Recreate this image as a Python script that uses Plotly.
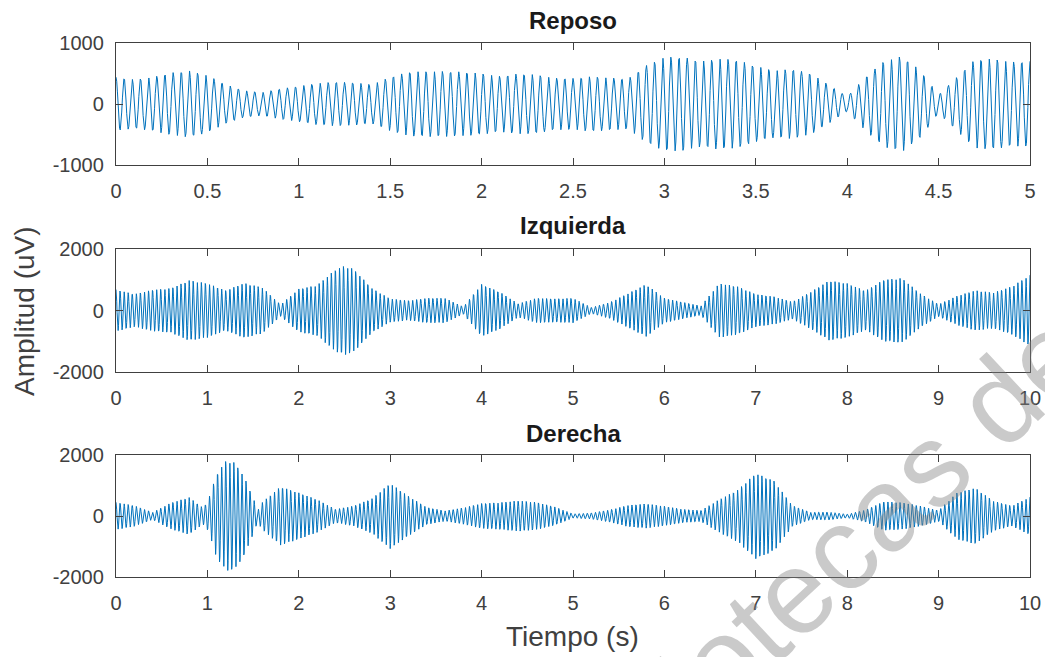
import numpy as np
import plotly.graph_objects as go

# ---------------- data ----------------
FS = 256  # samples per second

reposo_freq = 22.4
reposo_env_t = [0.0, 0.1, 0.2, 0.3, 0.4, 0.5, 0.6, 0.7, 0.8, 0.9, 1.0, 1.1, 1.2, 1.3, 1.4,
                1.5, 1.6, 1.7, 1.8, 1.9, 2.0, 2.1, 2.2, 2.3, 2.4, 2.5, 2.6, 2.7, 2.8, 2.9,
                3.0, 3.1, 3.2, 3.3, 3.4, 3.5, 3.6, 3.7, 3.8, 3.9, 4.0, 4.1, 4.2, 4.3, 4.4,
                4.5, 4.6, 4.7, 4.8, 4.9, 5.0]
reposo_env = [440, 400, 440, 510, 545, 470, 320, 220, 190, 250, 290, 340, 360, 350, 320,
              440, 525, 535, 535, 525, 500, 455, 495, 480, 425, 420, 450, 430, 410, 630,
              770, 770, 700, 745, 720, 620, 550, 570, 500, 315, 120, 440, 700, 785, 550,
              150, 440, 730, 740, 690, 700]

izq_freq = 22.5
izq_env_t = [0.0, 0.2, 0.4, 0.6, 0.8, 1.0, 1.2, 1.4, 1.6, 1.8, 2.0, 2.2, 2.4, 2.5, 2.6,
             2.8, 3.0, 3.2, 3.4, 3.6, 3.8, 4.0, 4.2, 4.4, 4.6, 4.8, 5.0, 5.2, 5.4, 5.6,
             5.8, 6.0, 6.2, 6.4, 6.6, 6.8, 7.0, 7.2, 7.4, 7.6, 7.8, 8.0, 8.2, 8.4, 8.6,
             8.8, 9.0, 9.2, 9.4, 9.6, 9.8, 10.0]
izq_env = [680, 530, 670, 720, 980, 880, 650, 890, 750, 190, 700, 820, 1330, 1450, 1350,
           720, 380, 320, 400, 400, 120, 850, 600, 220, 400, 380, 400, 100, 260, 550,
           850, 400, 270, 150, 880, 780, 530, 450, 280, 600, 970, 880, 640, 1000, 1050,
           550, 200, 470, 650, 580, 780, 1150]

der_freq = 22.5
der_env_t = [0.0, 0.2, 0.4, 0.6, 0.8, 0.95, 1.0, 1.05, 1.1, 1.2, 1.3, 1.4, 1.5, 1.55, 1.6,
             1.8, 2.0, 2.2, 2.4, 2.6, 2.8, 3.0, 3.2, 3.4, 3.6, 3.8, 4.0, 4.2, 4.4, 4.6,
             4.8, 5.0, 5.2, 5.4, 5.6, 5.8, 6.0, 6.2, 6.4, 6.6, 6.8, 7.0, 7.2, 7.4, 7.6,
             7.8, 8.0, 8.2, 8.4, 8.6, 8.8, 9.0, 9.2, 9.4, 9.6, 9.8, 10.0]
der_env = [450, 340, 120, 430, 610, 270, 450, 900, 1366, 1800, 1750, 1300, 600, 200, 450,
           960, 760, 540, 220, 330, 570, 1070, 650, 280, 170, 270, 410, 440, 500, 450,
           300, 70, 100, 200, 350, 400, 320, 220, 180, 540, 850, 1400, 1150, 340, 120,
           130, 60, 200, 470, 440, 330, 180, 760, 920, 490, 330, 620]

titles = ["Reposo", "Izquierda", "Derecha"]
x_ranges = [[0, 5], [0, 10], [0, 10]]
x_tickvals = [[0, 0.5, 1, 1.5, 2, 2.5, 3, 3.5, 4, 4.5, 5],
              list(range(0, 11)), list(range(0, 11))]
x_ticktext = [["0", "0.5", "1", "1.5", "2", "2.5", "3", "3.5", "4", "4.5", "5"],
              [str(v) for v in range(0, 11)], [str(v) for v in range(0, 11)]]
y_ranges = [[-1000, 1000], [-2000, 2000], [-2000, 2000]]
y_tickvals = [[-1000, 0, 1000], [-2000, 0, 2000], [-2000, 0, 2000]]
y_ticktext = [["-1000", "0", "1000"], ["-2000", "0", "2000"], ["-2000", "0", "2000"]]

xlabel = "Tiempo (s)"
ylabel = "Amplitud (uV)"
watermark = "Bibliotecas de"

# ---------------- build signals ----------------
def build(env_t, env, freq, tmax):
    t = np.arange(0, tmax + 1e-9, 1.0 / FS)
    a = np.interp(t, env_t, env)
    return t, a * np.cos(2 * np.pi * freq * t)

signals = [build(reposo_env_t, reposo_env, reposo_freq, 5),
           build(izq_env_t, izq_env, izq_freq, 10),
           build(der_env_t, der_env, der_freq, 10)]

# ---------------- figure geometry (pixels) ----------------
W, H = 1045, 657
L, R, T, B = 116, 1030, 43, 577          # plot region edges
PW, PH = R - L, B - T

def px(xp):
    return (xp - L) / PW

def py(yp):
    return (B - yp) / PH

y_doms = [[py(165), py(43)], [py(372), py(249)], [py(577), py(455)]]
title_y = [21, 226, 433]

FONT = "Liberation Sans, Arial, Helvetica, sans-serif"
AX = "#404040"

fig = go.Figure()
layout = dict(width=W, height=H, margin=dict(l=L, r=W - R, t=T, b=H - B, autoexpand=False),
              paper_bgcolor="white", plot_bgcolor="white", showlegend=False,
              font=dict(family=FONT, color=AX))
annotations = []
for i in range(3):
    sfx = "" if i == 0 else str(i + 1)
    t, y = signals[i]
    fig.add_trace(go.Scatter(x=t, y=y, mode="lines",
                             line=dict(color="#0072BD", width=1),
                             xaxis="x" + sfx, yaxis="y" + sfx, hoverinfo="skip"))
    common = dict(showline=True, linecolor=AX, linewidth=1.3, mirror="ticks",
                  ticks="inside", ticklen=7, tickwidth=1.3, tickcolor=AX,
                  showgrid=False, zeroline=False, automargin=False,
                  tickfont=dict(family=FONT, size=20, color=AX))
    layout["xaxis" + sfx] = dict(common, domain=[0, 1], range=x_ranges[i],
                                 tickmode="array", tickvals=x_tickvals[i],
                                 ticktext=x_ticktext[i], anchor="y" + sfx,
                                 ticklabelstandoff=8)
    layout["yaxis" + sfx] = dict(common, domain=y_doms[i], range=y_ranges[i],
                                 tickmode="array", tickvals=y_tickvals[i],
                                 ticktext=y_ticktext[i], anchor="x" + sfx,
                                 ticklabelstandoff=7)
    annotations.append(dict(text="<b>" + titles[i] + "</b>", x=0.5,
                            y=py(title_y[i]), xref="paper", yref="paper", showarrow=False,
                            xanchor="center", yanchor="middle",
                            font=dict(family=FONT, size=24, color="#1a1a1a")))

annotations.append(dict(text=ylabel, x=px(24), y=py(311), xref="paper", yref="paper",
                        showarrow=False, textangle=-90, xanchor="center", yanchor="middle",
                        font=dict(family=FONT, size=28, color=AX)))
annotations.append(dict(text=xlabel, x=px(572), y=py(636), xref="paper", yref="paper",
                        showarrow=False, xanchor="center", yanchor="middle",
                        font=dict(family=FONT, size=28, color=AX)))
annotations.append(dict(text=watermark, x=px(802), y=py(585), xref="paper", yref="paper",
                        showarrow=False, textangle=-43, xanchor="center", yanchor="middle",
                        font=dict(family=FONT, size=118, color="rgba(128,128,128,0.42)")))
layout["annotations"] = annotations
fig.update_layout(**layout)
fig.write_html("out.html", config={"displayModeBar": False},
               post_script="document.body.style.margin='0';document.body.style.overflow='hidden';")
